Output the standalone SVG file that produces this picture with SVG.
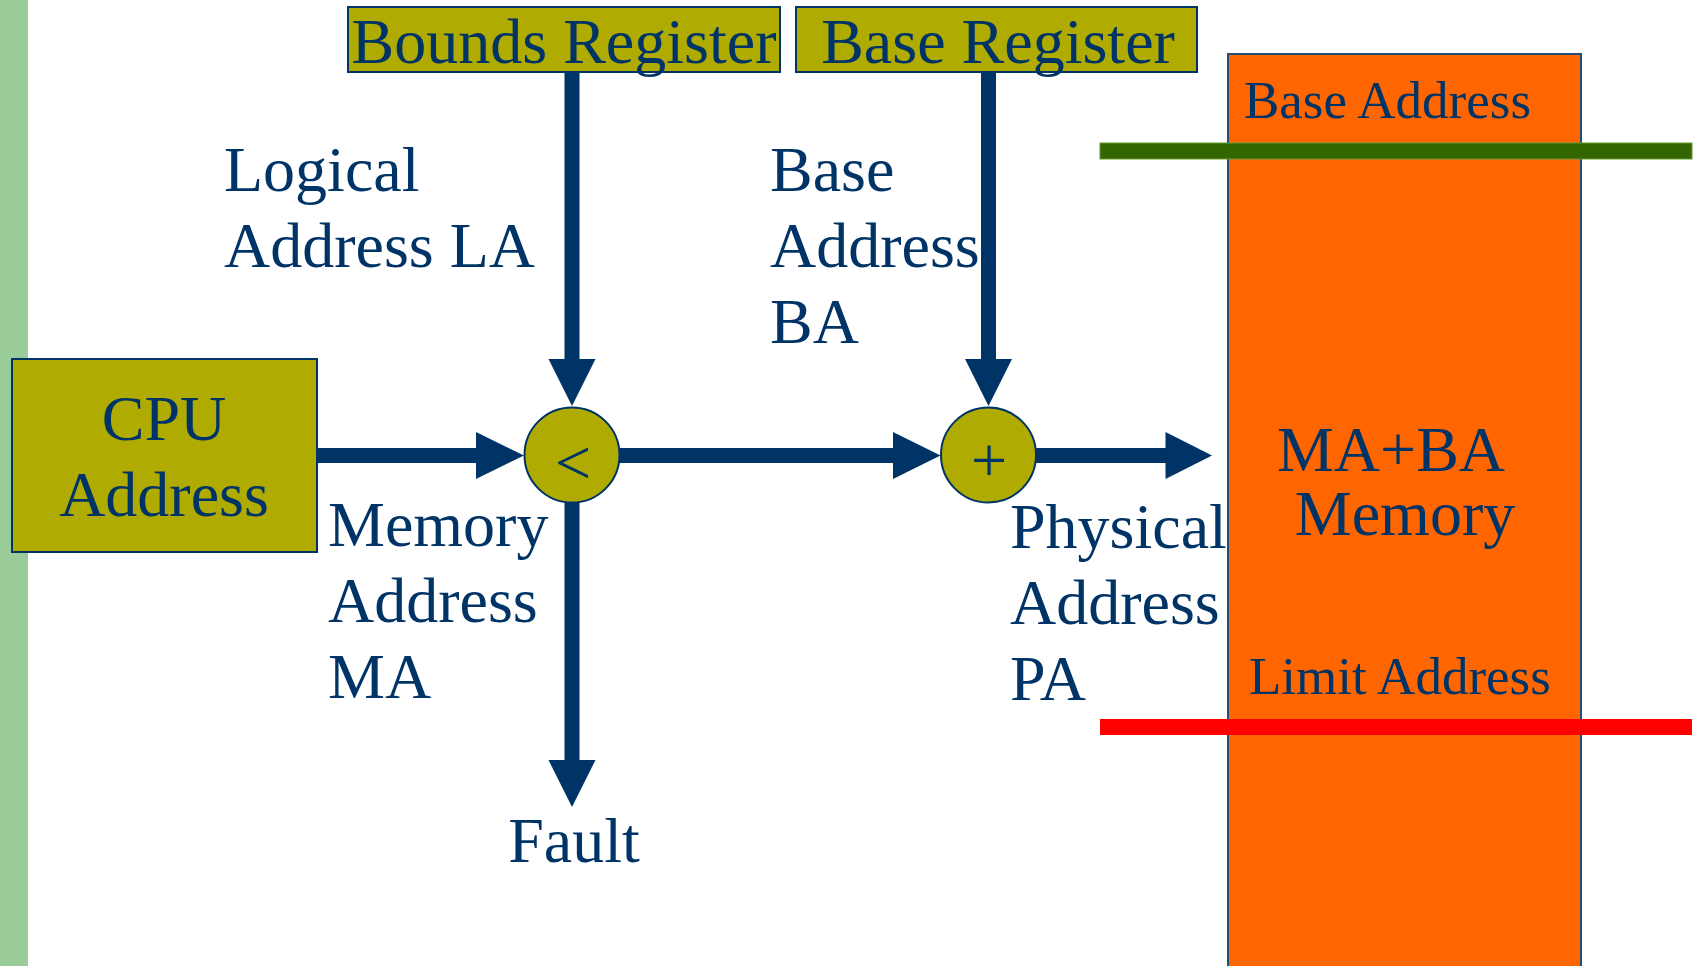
<svg xmlns="http://www.w3.org/2000/svg" width="1698" height="966" viewBox="0 0 1698 966">
  <style>
    .lbl { font-family: "Liberation Serif", "Times New Roman", serif; fill: #003366; }
    .big { font-size: 64px; }
    .mid { font-size: 53px; }
    .reg { fill: #B0AB00; stroke: #003366; stroke-width: 2; }
    .op { fill: #B0AB00; stroke: #003366; stroke-width: 2; }
    .wire { stroke: #003366; stroke-width: 15; fill: none; }
    .head { fill: #003366; }
  </style>

  <rect x="0" y="0" width="1698" height="966" fill="#FFFFFF"/>
  <!-- side band -->
  <rect x="0" y="0" width="28" height="966" fill="#99CC99"/>

  <!-- memory column -->
  <g id="memory">
    <rect x="1228" y="54" width="353" height="920" fill="#FF6600" stroke="#1F4E79" stroke-width="2"/>
    <text class="lbl mid" x="1244" y="118">Base Address</text>
    <text class="lbl big" x="1391" y="471" text-anchor="middle">MA+BA</text>
    <text class="lbl big" x="1405" y="535" text-anchor="middle">Memory</text>
    <text class="lbl mid" x="1249" y="694">Limit Address</text>
  </g>
  <g id="base-line">
    <rect x="1100" y="143" width="592" height="16" fill="#336600" stroke="#669933" stroke-width="1"/>
  </g>
  <g id="limit-line">
    <rect x="1100" y="719" width="592" height="16" fill="#FF0000"/>
  </g>

  <g id="bounds-register">
    <rect class="reg" x="348" y="7" width="432" height="65"/>
    <text class="lbl big" x="564" y="63" text-anchor="middle">Bounds Register</text>
  </g>
  <g id="base-register">
    <rect class="reg" x="796" y="7" width="401" height="65"/>
    <text class="lbl big" x="998" y="63" text-anchor="middle">Base Register</text>
  </g>

  <g id="cpu">
    <rect class="reg" x="12" y="359" width="305" height="193"/>
    <text class="lbl big" x="164" y="440" text-anchor="middle">CPU</text>
    <text class="lbl big" x="164" y="516" text-anchor="middle">Address</text>
  </g>

  <!-- connectors -->
  <g id="connectors">
    <line class="wire" x1="572" y1="72" x2="572" y2="362"/>
    <polygon class="head" points="548.5,359 595.5,359 572,406"/>

    <line class="wire" x1="988.5" y1="72" x2="988.5" y2="362"/>
    <polygon class="head" points="965,359 1012,359 988.5,406"/>

    <line class="wire" x1="317" y1="455.5" x2="479" y2="455.5"/>
    <polygon class="head" points="476,432 476,479 524,455.5"/>

    <line class="wire" x1="619" y1="455.5" x2="896" y2="455.5"/>
    <polygon class="head" points="893,432 893,479 940.5,455.5"/>

    <line class="wire" x1="1036" y1="455.5" x2="1168" y2="455.5"/>
    <polygon class="head" points="1165.5,432 1165.5,479 1212,455.5"/>

    <line class="wire" x1="572" y1="502" x2="572" y2="763"/>
    <polygon class="head" points="548.5,760 595.5,760 572,807"/>
  </g>

  <g id="compare">
    <circle class="op" cx="572" cy="455" r="47.5"/>
    <text class="lbl big" x="573" y="484" text-anchor="middle">&lt;</text>
  </g>
  <g id="adder">
    <circle class="op" cx="988.5" cy="455" r="47.5"/>
    <text class="lbl big" x="989" y="482" text-anchor="middle">+</text>
  </g>

  <!-- signal labels -->
  <g id="label-la">
    <text class="lbl big" x="224" y="191">Logical</text>
    <text class="lbl big" x="224" y="267">Address LA</text>
  </g>
  <g id="label-ba">
    <text class="lbl big" x="770" y="191">Base</text>
    <text class="lbl big" x="770" y="267">Address</text>
    <text class="lbl big" x="770" y="343">BA</text>
  </g>
  <g id="label-ma">
    <text class="lbl big" x="328" y="546">Memory</text>
    <text class="lbl big" x="328" y="622">Address</text>
    <text class="lbl big" x="328" y="698">MA</text>
  </g>
  <g id="label-pa">
    <text class="lbl big" x="1010" y="548">Physical</text>
    <text class="lbl big" x="1010" y="624">Address</text>
    <text class="lbl big" x="1010" y="700">PA</text>
  </g>
  <g id="fault">
    <text class="lbl big" x="574" y="862" text-anchor="middle">Fault</text>
  </g>
</svg>
